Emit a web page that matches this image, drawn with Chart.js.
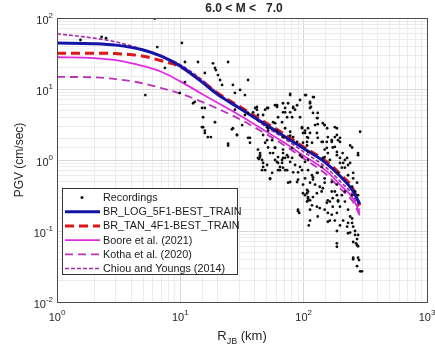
<!DOCTYPE html>
<html>
<head>
<meta charset="utf-8">
<script src="https://cdn.jsdelivr.net/npm/chart.js@4.4.1/dist/chart.umd.min.js"></script>
<style>
  html, body { margin: 0; padding: 0; background: #ffffff; }
</style>
</head>
<body>
<canvas id="pgvChart" width="435" height="352"></canvas>
<script>
const titleText = "6.0 < M <   7.0";
const xTickExp = [0, 1, 2, 3];
const yTickExp = [-2, -1, 0, 1, 2];

// R_JB (km) / PGV (cm/sec)
const recordings = [
    [1.55, 49], [2.3, 54], [2.5, 52], [5.2, 8.2], [6.2, 98], [6.5, 39], [7.5, 19.8], [9.9, 8.8],
    [10.3, 44.5], [10.9, 24], [10.9, 12.5], [12.7, 6.3], [13.1, 6.6], [13.9, 24], [15, 5.4], [15.3, 4],
    [15.8, 5.4], [15.8, 16.8], [18.4, 23], [19.1, 19.8], [19.4, 18.5], [20.2, 15.7], [21, 13.4], [21.8, 11.4],
    [24.4, 24], [26.7, 11.4], [27.7, 8.8], [30.5, 9.7], [33.4, 8.2], [35.4, 13.4], [27.7, 5.1], [33.4, 4.3],
    [38.9, 4.7], [42.6, 4.3],
    [15, 2.9], [15.8, 2.4], [16.7, 2.1], [17.7, 2.1], [15.3, 2.9], [15.8, 2.6], [19.1, 3.4], [24.4, 1.6],
    [24.4, 1.7], [28.8, 2.25], [26.7, 2.8], [26.2, 2.7], [35.4, 2.05], [36.7, 1.75], [42.6, 1.4], [44.3, 1.17],
    [46, 1.0], [46.9, 0.8], [42.6, 1.07], [44.3, 1.25], [43.4, 1.03], [46, 0.72], [53.4, 0.54], [56.5, 1.25],
    [60.8, 0.94], [64.3, 0.8], [68, 1.07], [73.4, 0.72], [77.7, 0.49], [88.4, 0.49], [90.1, 0.67], [93.5, 0.8],
    [97, 1.1], [102.6, 0.94], [108.5, 0.72], [116.8, 0.61], [112.6, 0.48], [106.5, 0.34], [108.5, 0.27], [90.1, 0.19],
    [119, 0.30], [128, 0.22], [130, 0.16], [135, 0.21], [148, 0.20], [157, 0.18], [163, 0.14], [172, 0.29],
    [179, 0.36], [186, 0.45], [190, 0.27], [197, 0.22], [204, 0.32], [216, 0.26], [229, 0.20], [238, 0.16],
    [247, 0.13], [252, 0.115], [229, 0.093], [261, 0.10], [276, 0.088], [247, 0.42], [261, 0.36], [276, 0.32],
    [252, 0.66], [238, 0.91], [225, 1.07], [207, 1.25], [276, 1.17], [186, 1.3], [179, 1.53], [169, 1.8],
    [157, 2.1], [197, 2.05], [128, 2.4], [143, 3.3], [155, 2.8], [186, 2.8], [97, 2.9], [102.6, 2.6],
    [112.6, 2.4], [88.4, 1.8], [98.8, 1.75], [108.5, 1.3], [77.7, 2.2], [80.6, 1.48], [70.7, 2.8], [68, 2.1],
    [60.8, 2.6], [55.5, 1.9], [50.5, 2.9], [287, 2.5],
    [186, 0.067], [186, 0.060], [252, 0.070], [271, 0.063], [276, 0.061], [252, 0.040], [281, 0.039], [271, 0.032],
    [297, 0.027],
    [77.7, 8.2], [102.6, 8.2], [119, 7.7], [93.5, 7], [112.6, 6.3], [68, 6.3], [58.6, 5.9], [51.5, 5.4],
    [70.7, 4.7], [85.2, 5.1], [93.5, 4.0], [130, 4.6], [41.8, 5.1], [77.7, 8.5], [104.5, 8.2], [121, 7.7],
    [114.6, 5.6], [74.8, 6.3], [82.2, 5.4], [119, 4.6], [128, 3.9], [130, 3.2], [148, 3.1], [179, 2.9],
    [186, 2.25], [190, 1.9], [169, 1.9], [154, 1.8], [238, 1.6], [276, 1.25], [41.8, 5.6], [48.7, 5.1],
    [60.8, 5.9], [68, 4.7], [73.4, 4.0], [66.8, 3.4], [58.6, 3.3], [51.5, 2.6], [46.9, 2.25], [50.5, 1.9],
    [44.3, 1.1], [77.7, 2.5], [82.2, 2.1], [98.8, 2.4], [108.5, 2.05], [106.5, 1.6], [116.8, 1.75], [140, 1.8],
    [148, 1.4], [157, 1.25], [143, 1.07], [58.6, 1.5], [68, 1.4], [73.4, 1.17], [80.6, 1.07], [66.8, 1.0],
    [93.5, 1.17], [108.5, 1.0], [186, 1.17], [197, 0.91], [216, 1.0], [229, 0.85], [204, 0.78],
    [46.9, 0.91], [48.7, 0.72], [53.4, 0.55], [62, 0.91], [68, 0.78], [64.3, 0.72], [74.8, 0.48], [90, 0.20],
    [92, 0.18], [98.8, 0.34], [108.5, 0.30], [106.5, 0.26], [116.8, 0.23], [112.6, 0.20], [112.6, 0.14], [110, 0.12],
    [128, 0.34], [140, 0.36], [135, 0.42], [148, 0.48], [119, 0.53], [128, 0.66], [154, 0.25], [163, 0.26],
    [172, 0.22], [169, 0.17], [186, 0.18], [179, 0.14], [157, 0.135], [186, 0.10], [197, 0.12], [209, 0.14],
    [229, 0.13], [225, 0.115], [238, 0.095], [247, 0.15], [261, 0.088], [271, 0.077], [266, 0.067], [252, 0.042],
    [276, 0.042], [287, 0.027],
    [50.5, 5.4], [60.8, 5.6], [70.7, 5.4], [77.7, 4.7], [82.2, 5.6], [88.4, 5.9], [80.6, 4.0], [62, 4.0],
    [56.5, 3.4], [51.5, 2.8], [46.9, 4.3], [40.4, 5.4], [35.4, 4.6], [31.7, 3.1], [28.8, 2.25], [36.7, 2.05],
    [48.7, 1.75], [51.5, 1.5], [53.4, 1.25], [58.6, 1.48], [62, 1.1], [68, 1.25], [70.7, 1.07], [74.8, 1.1],
    [58.6, 1.0], [66.8, 0.91], [77.7, 0.94], [85.2, 0.85], [50.5, 0.85], [55.5, 0.66], [62, 0.72], [70.7, 0.72],
    [82.2, 0.67], [90.1, 0.53], [97, 2.8], [102.6, 2.4], [106.5, 1.8], [97, 0.72], [102.6, 0.55], [98.8, 0.45],
    [106.5, 0.38], [102.6, 0.32], [108.5, 0.29],
    [112.6, 6.6], [112.6, 5.4], [130, 3.9], [123.7, 3.1], [148, 3.1], [108.5, 2.8], [106.5, 2.1], [130, 2.05],
    [143, 1.8], [179, 2.1], [197, 1.8], [154, 1.48], [172, 1.5], [247, 1.5], [148, 1.1], [163, 1.0],
    [197, 1.07], [209, 0.91], [216, 0.78], [190, 0.66], [229, 0.61], [252, 0.55], [271, 0.48], [140, 0.8],
    [130, 0.66], [119, 0.57], [148, 0.55], [169, 0.49], [123.7, 0.45], [143, 0.40], [169, 0.36], [186, 0.32],
    [216, 0.36], [247, 0.32], [157, 0.27], [190, 0.26], [108.5, 0.36], [112.6, 0.27]
];

// model curves, sampled at these distances
const curveR     = [1, 2, 3, 5, 7, 10, 15, 20, 30, 50, 70, 100, 150, 200, 250, 285];
const brLog      = [44.5, 43.5, 41.5, 35.5, 29, 21, 12.5, 8.4, 5.4, 3.1, 2.15, 1.45, 0.92, 0.58, 0.37, 0.24];
const brTan      = [32, 32, 31.5, 29, 25, 20.5, 12.8, 8.8, 5.7, 3.3, 2.3, 1.52, 0.98, 0.62, 0.4, 0.23];
const boore2021  = [28, 27.3, 25.5, 21, 17.5, 12.8, 8.5, 6.4, 4.3, 2.5, 1.75, 1.15, 0.72, 0.44, 0.29, 0.18];
const kotha2020  = [14.8, 14.6, 13.8, 12, 10.3, 8.6, 6.6, 5.3, 3.8, 2.3, 1.6, 1.05, 0.64, 0.39, 0.26, 0.165];
const chiou2014  = [60, 52, 46, 36, 29, 22, 13.5, 8.8, 5.5, 2.9, 2.0, 1.3, 0.8, 0.49, 0.32, 0.2];

const seriesNames = [
    "Recordings",
    "BR_LOG_5F1-BEST_TRAIN",
    "BR_TAN_4F1-BEST_TRAIN",
    "Boore et al. (2021)",
    "Kotha et al. (2020)",
    "Chiou and Youngs (2014)"
];

const FONT = "'Liberation Sans', Arial, sans-serif";

function toPoints(ys) {
    return curveR.map((r, i) => ({ x: r, y: ys[i] }));
}

function lineSet(label, ys, color, width, dash) {
    return {
        label: label,
        data: toPoints(ys),
        showLine: true,
        borderColor: color,
        backgroundColor: color,
        borderWidth: width,
        borderDash: dash,
        pointRadius: 0,
        cubicInterpolationMode: 'monotone'
    };
}

function drawPower(ctx, exp, x, y, align) {
    const base = "10";
    const sup = String(exp);
    ctx.font = "11px " + FONT;
    const wb = ctx.measureText(base).width;
    ctx.font = "8px " + FONT;
    const ws = ctx.measureText(sup).width;
    let left = align === 'right' ? x - wb - ws : x - (wb + ws) / 2;
    ctx.textAlign = 'left';
    ctx.textBaseline = 'alphabetic';
    ctx.font = "11px " + FONT;
    ctx.fillText(base, left, y);
    ctx.font = "8px " + FONT;
    ctx.fillText(sup, left + wb, y - 6);
}

function drawLegend(chart) {
    const ctx = chart.ctx;
    const left = 62, top = 188, width = 175, height = 86;
    ctx.fillStyle = '#ffffff';
    ctx.fillRect(left, top, width, height);
    ctx.strokeStyle = '#333333';
    ctx.lineWidth = 1;
    ctx.setLineDash([]);
    ctx.strokeRect(left + 0.5, top + 0.5, width, height);

    chart.data.datasets.forEach((ds, i) => {
        const y = top + 9.5 + i * 14.2;
        if (ds.showLine) {
            ctx.beginPath();
            ctx.setLineDash(ds.borderDash || []);
            ctx.strokeStyle = ds.borderColor;
            ctx.lineWidth = ds.borderWidth;
            ctx.moveTo(65, y);
            ctx.lineTo(100, y);
            ctx.stroke();
            ctx.setLineDash([]);
        } else {
            ctx.fillStyle = ds.backgroundColor;
            ctx.beginPath();
            ctx.arc(82, y, 1.5, 0, Math.PI * 2);
            ctx.fill();
        }
        ctx.fillStyle = '#1a1a1a';
        ctx.font = "10.8px " + FONT;
        ctx.textAlign = 'left';
        ctx.textBaseline = 'middle';
        ctx.fillText(ds.label, 103, y + 0.5);
    });
}

const decorPlugin = {
    id: 'decor',
    afterDraw(chart) {
        const ctx = chart.ctx;
        const area = chart.chartArea;
        const xs = chart.scales.x;
        const ys = chart.scales.y;
        ctx.save();

        ctx.strokeStyle = '#4a4a4a';
        ctx.lineWidth = 1;
        ctx.strokeRect(Math.round(area.left) + 0.5, Math.round(area.top) + 0.5,
            Math.round(area.right - area.left), Math.round(area.bottom - area.top));

        ctx.fillStyle = '#262626';
        xTickExp.forEach(e => drawPower(ctx, e, xs.getPixelForValue(Math.pow(10, e)), 321, 'center'));
        yTickExp.forEach(e => drawPower(ctx, e, 53, ys.getPixelForValue(Math.pow(10, e)) + 6, 'right'));

        // title
        ctx.font = "bold 12px " + FONT;
        ctx.textAlign = 'center';
        ctx.textBaseline = 'middle';
        ctx.fillText(titleText, 244, 9);

        // x axis label with subscript
        ctx.font = "13px " + FONT;
        const wR = ctx.measureText("R").width;
        const rest = " (km)";
        const wRest = ctx.measureText(rest).width;
        ctx.font = "9px " + FONT;
        const wSub = ctx.measureText("JB").width;
        let xl = 242 - (wR + wSub + wRest) / 2;
        ctx.textAlign = 'left';
        ctx.textBaseline = 'alphabetic';
        ctx.font = "13px " + FONT;
        ctx.fillText("R", xl, 340);
        ctx.font = "9px " + FONT;
        ctx.fillText("JB", xl + wR, 344);
        ctx.font = "13px " + FONT;
        ctx.fillText(rest, xl + wR + wSub, 340);

        // y axis label
        ctx.save();
        ctx.translate(20, (area.top + area.bottom) / 2);
        ctx.rotate(-Math.PI / 2);
        ctx.textAlign = 'center';
        ctx.textBaseline = 'middle';
        ctx.font = "12px " + FONT;
        ctx.fillText("PGV (cm/sec)", 0, 0);
        ctx.restore();

        drawLegend(chart);
        ctx.restore();
    }
};

function gridColor(c) {
    return c.tick && c.tick.major ? '#d9d9d9' : '#ebebeb';
}

function drawChart() {
    const ctx = document.getElementById("pgvChart").getContext("2d");

    new Chart(ctx, {
        type: 'scatter',
        data: {
            datasets: [
                {
                    label: seriesNames[0],
                    data: recordings.map(p => ({ x: p[0], y: p[1] })),
                    backgroundColor: '#111111',
                    borderWidth: 0,
                    pointRadius: 1.4,
                    showLine: false
                },
                lineSet(seriesNames[1], brLog, '#1414a6', 3, []),
                lineSet(seriesNames[2], brTan, '#dd1616', 3, [9, 5]),
                lineSet(seriesNames[3], boore2021, '#e02ce0', 1.8, []),
                lineSet(seriesNames[4], kotha2020, '#b834b8', 1.8, [8, 5]),
                lineSet(seriesNames[5], chiou2014, '#a82aa8', 1.6, [4, 2])
            ]
        },
        options: {
            responsive: false,
            animation: false,
            events: [],
            layout: { padding: { top: 18, right: 8, bottom: 0, left: 0 } },
            scales: {
                x: {
                    type: 'logarithmic',
                    min: 1,
                    max: 1000,
                    ticks: { display: false },
                    grid: { color: gridColor, drawTicks: false },
                    border: { display: false },
                    afterFit: s => { s.height = 50; }
                },
                y: {
                    type: 'logarithmic',
                    min: 0.01,
                    max: 100,
                    ticks: { display: false },
                    grid: { color: gridColor, drawTicks: false },
                    border: { display: false },
                    afterFit: s => { s.width = 57; }
                }
            },
            plugins: {
                legend: { display: false },
                title: { display: false },
                tooltip: { enabled: false }
            }
        },
        plugins: [decorPlugin]
    });
}

document.addEventListener("DOMContentLoaded", drawChart);
</script>
</body>
</html>
